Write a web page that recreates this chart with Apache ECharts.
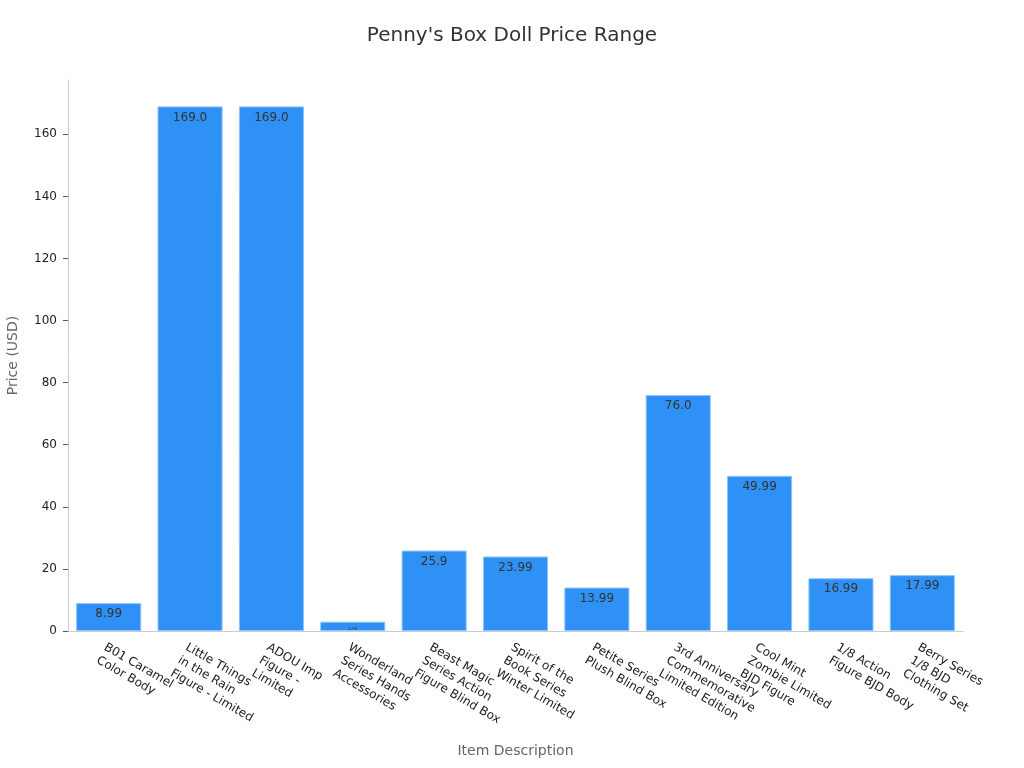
<!DOCTYPE html>
<html>
<head>
<meta charset="utf-8">
<script src="https://cdn.jsdelivr.net/npm/echarts@6/dist/echarts.min.js"></script>
<style>html,body{margin:0;padding:0;background:#fff}#c{width:1024px;height:768px}</style>
</head>
<body>
<div id="c"></div>
<script>
const categories = [
  "B01 Caramel\nColor Body",
  "Little Things\nin the Rain\nFigure - Limited",
  "ADOU Imp\nFigure -\nLimited",
  "Wonderland\nSeries Hands\nAccessories",
  "Beast Magic\nSeries Action\nFigure Blind Box",
  "Spirit of the\nBook Series\nWinter Limited",
  "Petite Series\nPlush Blind Box",
  "3rd Anniversary\nCommemorative\nLimited Edition",
  "Cool Mint\nZombie Limited\nBJD Figure",
  "1/8 Action\nFigure BJD Body",
  "Berry Series\n1/8 BJD\nClothing Set"
];
const prices = [8.99, 169.0, 169.0, 2.99, 25.9, 23.99, 13.99, 76.0, 49.99, 16.99, 17.99];
const yTicks = [0, 20, 40, 60, 80, 100, 120, 140, 160];

const font = "DejaVu Sans";
const chart = echarts.init(document.getElementById('c'));
chart.setOption({
  animation: false,
  textStyle: { fontFamily: font },
  title: {
    text: "Penny's Box Doll Price Range",
    left: 'center', top: 21,
    textStyle: { fontFamily: font, fontSize: 20, fontWeight: 'normal', color: '#333' }
  },
  grid: { left: 68, right: 61, top: 80, bottom: 137, containLabel: false, outerBoundsMode: 'none' },
  xAxis: {
    type: 'category',
    data: categories,
    name: 'Item Description',
    nameLocation: 'middle',
    nameGap: 113,
    nameTextStyle: { fontFamily: font, fontSize: 14, color: '#666' },
    axisLine: { lineStyle: { color: '#ccc' } },
    axisTick: { alignWithLabel: true, length: 5, lineStyle: { color: '#555' } },
    axisLabel: { rotate: -30, interval: 0, fontSize: 12, color: '#222', lineHeight: 15,
                 margin: 9, align: 'left', verticalAlign: 'top' }
  },
  yAxis: {
    type: 'value',
    min: 0, max: 177.5,
    name: 'Price (USD)',
    nameLocation: 'middle',
    nameGap: 48,
    nameTextStyle: { fontFamily: font, fontSize: 14, color: '#666' },
    splitLine: { show: false },
    axisLine: { show: true, lineStyle: { color: '#ccc' } },
    axisTick: { show: true, length: 5, customValues: yTicks, lineStyle: { color: '#555' } },
    axisLabel: { customValues: yTicks, fontSize: 12, color: '#222', margin: 11 }
  },
  series: [{
    type: 'bar',
    data: prices.map(v => ({
      value: v,
      label: v < 5 ? { fontSize: 4 } : undefined
    })),
    barCategoryGap: '20%',
    itemStyle: { color: '#2f91f6', borderColor: '#8cc4fa', borderWidth: 1 },
    label: {
      show: true,
      position: 'insideTop',
      distance: 5,
      fontSize: 12,
      color: '#333',
      formatter: p => Number.isInteger(p.value) ? p.value.toFixed(1) : String(p.value)
    }
  }]
});
</script>
</body>
</html>
